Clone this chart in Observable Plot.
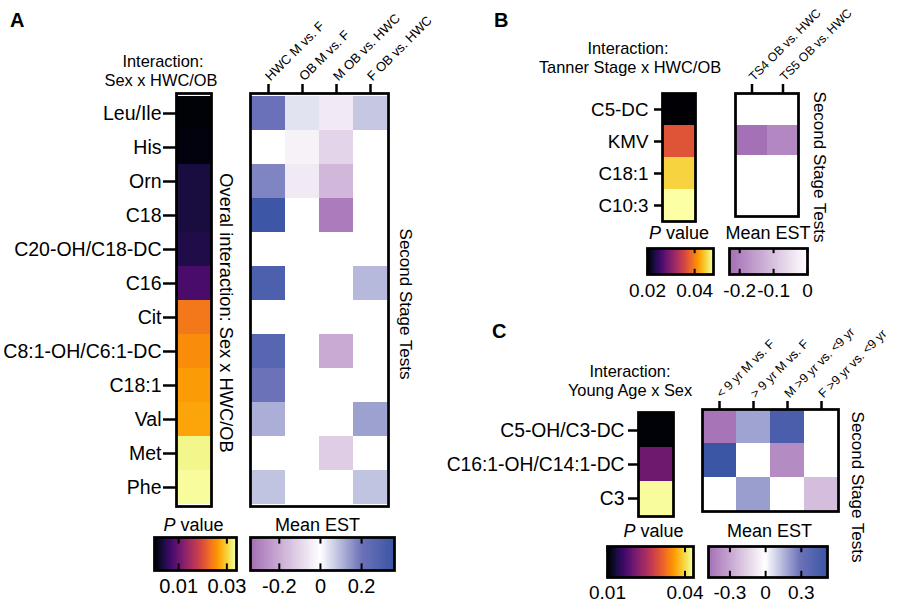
<!DOCTYPE html>
<html>
<head>
<meta charset="utf-8">
<script src="https://cdn.jsdelivr.net/npm/d3@7"></script>
<script src="https://cdn.jsdelivr.net/npm/@observablehq/plot@0.6"></script>
<style>
  html, body { margin: 0; padding: 0; background: white; }
  #root { position: relative; width: 900px; height: 612px; background: white; overflow: hidden; }
  #root svg { position: absolute; left: 0; top: 0; pointer-events: none; }
</style>
</head>
<body>
<div id="root"></div>
<script>
// ---------- DATA ----------
// Panel A
const rowsA = ["Leu/Ile","His","Orn","C18","C20-OH/C18-DC","C16","Cit","C8:1-OH/C6:1-DC","C18:1","Val","Met","Phe"];
const pValuesA = [0.0005, 0.0008, 0.0036, 0.0037, 0.0042, 0.0075, 0.0238, 0.0255, 0.0265, 0.0272, 0.0330, 0.0337];
const testsA = ["HWC M vs. F","OB M vs. F","M OB vs. HWC","F OB vs. HWC"];
const estA = [
  [0.21, 0.04, -0.05, 0.08],
  [null, -0.03, -0.10, null],
  [0.175, -0.05, -0.17, null],
  [0.35, null, -0.31, null],
  [null, null, null, null],
  [0.30, null, null, 0.10],
  [null, null, null, null],
  [0.27, null, -0.20, null],
  [0.205, null, null, null],
  [0.115, null, null, 0.135],
  [null, null, -0.12, null],
  [0.085, null, null, 0.085]
];
const pTicksA = [0.01, 0.03];
const estTicksA = [-0.2, 0, 0.2];

// Panel B
const rowsB = ["C5-DC","KMV","C18:1","C10:3"];
const pValuesB = [0.0202, 0.037, 0.045, 0.0479];
const testsB = ["TS4 OB vs. HWC","TS5 OB vs. HWC"];
const estB = [
  [null, null],
  [-0.225, -0.19],
  [null, null],
  [null, null]
];
const pTicksB = [0.02, 0.04];
const estTicksB = [-0.2, -0.1, 0];

// Panel C
const rowsC = ["C5-OH/C3-DC","C16:1-OH/C14:1-DC","C3"];
const pValuesC = [0.0105, 0.0203, 0.043];
const testsC = ["< 9 yr M vs. F","> 9 yr M vs. F","M >9 yr vs. <9 yr","F >9 yr vs. <9 yr"];
const estC = [
  [-0.46, 0.19, 0.45, null],
  [0.51, null, -0.385, null],
  [null, 0.20, null, -0.22]
];
const pTicksC = [0.01, 0.04];
const estTicksC = [-0.3, 0, 0.3];

// ---------- SCALES ----------
const purple = "#a36eb4", blueMid = "#6d73b9", blue = "#3a55a5";
const pColorA = {type: "linear", domain: [0, 0.034], scheme: "inferno"};
const pColorB = {type: "linear", domain: [0.02, 0.048], scheme: "inferno"};
const pColorC = {type: "linear", domain: [0.01, 0.0433], scheme: "inferno"};
const estColorA = {type: "linear", domain: [-0.34, 0, 0.2, 0.36], range: [purple, "#ffffff", blueMid, blue], interpolate: "rgb"};
const estColorB = {type: "linear", domain: [-0.23, 0], range: [purple, "#ffffff"], interpolate: "rgb"};
const estColorC = {type: "linear", domain: [-0.48, 0, 0.29, 0.52], range: [purple, "#ffffff", blueMid, blue], interpolate: "rgb"};

// ---------- HELPERS ----------
const W = 900, H = 612;
const FONT = "'Liberation Sans', Arial, Helvetica, sans-serif";
const style = {fontFamily: FONT, background: "transparent", color: "black", overflow: "visible"};
function area(x0, y0, x1, y1) {
  return {width: W, height: H, marginLeft: x0, marginTop: y0, marginRight: W - x1, marginBottom: H - y1};
}
const root = document.getElementById("root");
function add(el) { root.appendChild(el); }

function pColumn({rows, values, color, box, fontSize, tickSize, tickPadding}) {
  const data = rows.map((r, i) => ({row: r, value: values[i]}));
  return Plot.plot({
    ...area(...box), style,
    y: {domain: rows, padding: 0, axis: null},
    color,
    marks: [
      Plot.cell(data, {y: "row", fill: "value", shapeRendering: "crispEdges"}),
      Plot.axisY({tickSize, tickPadding, fontSize, strokeWidth: 2.5, label: null}),
      Plot.frame({stroke: "black", strokeWidth: 2.75})
    ]
  });
}

function heatmap({rows, cols, matrix, color, box, colFont, tickSize}) {
  const data = [];
  rows.forEach((r, i) => cols.forEach((c, j) => {
    if (matrix[i][j] != null) data.push({row: r, col: c, value: matrix[i][j]});
  }));
  return Plot.plot({
    ...area(...box), style,
    x: {domain: cols, padding: 0, axis: null},
    y: {domain: rows, padding: 0, axis: null},
    color,
    marks: [
      Plot.cell(data, {x: "col", y: "row", fill: "value", shapeRendering: "crispEdges"}),
      Plot.axisX({anchor: "top", tickSize, strokeWidth: 2.5, tickFormat: () => "", label: null}),
      Plot.text(cols, {x: d => d, text: d => d, frameAnchor: "top", rotate: -45, textAnchor: "start",
        lineAnchor: "bottom", dx: 2, dy: -(tickSize + 2), fontSize: colFont}),
      Plot.frame({stroke: "black", strokeWidth: 2.75})
    ]
  });
}

function colorbar({color, domain, ticks, box, fontSize, tickPadding}) {
  const N = 160, step = (domain[1] - domain[0]) / N;
  const steps = d3.range(N).map(i => domain[0] + step * i);
  return Plot.plot({
    ...area(...box), style,
    x: {domain, axis: null},
    y: {domain: [0, 1], axis: null},
    color,
    marks: [
      Plot.rect(steps, {x1: d => d, x2: d => Math.min(domain[1], d + step * 1.5), y1: 0, y2: 1,
        fill: d => d + step / 2, shapeRendering: "crispEdges"}),
      Plot.ruleX(ticks, {y1: 1, y2: 0.8, strokeWidth: 2}),
      Plot.ruleX(ticks, {y1: 0, y2: 0.2, strokeWidth: 2}),
      Plot.axisX({ticks, tickSize: 0, tickPadding, fontSize, tickFormat: d => String(d), label: null}),
      Plot.frame({stroke: "black", strokeWidth: 2.75})
    ]
  });
}

// ---------- PANEL A ----------
add(pColumn({rows: rowsA, values: pValuesA, color: pColorA, box: [176, 93, 211, 506], fontSize: 19.5, tickSize: 13, tickPadding: 2}));
add(heatmap({rows: rowsA, cols: testsA, matrix: estA, color: estColorA, box: [250, 93, 388, 506], colFont: 13, tickSize: 10}));
add(colorbar({color: pColorA, domain: [0, 0.034], ticks: pTicksA, box: [154, 537, 236, 570], fontSize: 20, tickPadding: 8}));
add(colorbar({color: estColorA, domain: [-0.34, 0.36], ticks: estTicksA, box: [250, 537, 394, 570], fontSize: 20, tickPadding: 8}));

// ---------- PANEL B ----------
add(pColumn({rows: rowsB, values: pValuesB, color: pColorB, box: [662, 93, 695, 221], fontSize: 18.8, tickSize: 8, tickPadding: 6}));
add(heatmap({rows: rowsB, cols: testsB, matrix: estB, color: estColorB, box: [735, 93, 798, 216], colFont: 12.3, tickSize: 10}));
add(colorbar({color: pColorB, domain: [0.02, 0.048], ticks: pTicksB, box: [647, 248, 713, 274], fontSize: 19, tickPadding: 9}));
add(colorbar({color: estColorB, domain: [-0.23, 0], ticks: estTicksB, box: [729, 248, 807, 274], fontSize: 19, tickPadding: 9}));

// ---------- PANEL C ----------
add(pColumn({rows: rowsC, values: pValuesC, color: pColorC, box: [638, 412, 673, 516], fontSize: 19.3, tickSize: 10, tickPadding: 4}));
add(heatmap({rows: rowsC, cols: testsC, matrix: estC, color: estColorC, box: [702, 409, 838, 511], colFont: 12.5, tickSize: 9}));
add(colorbar({color: pColorC, domain: [0.01, 0.0433], ticks: pTicksC, box: [607, 546, 693, 577], fontSize: 19, tickPadding: 8}));
add(colorbar({color: estColorC, domain: [-0.48, 0.52], ticks: estTicksC, box: [708, 546, 827, 577], fontSize: 19, tickPadding: 8}));

// ---------- TEXT ANNOTATIONS ----------
const svg = d3.select("#root").append("svg").attr("width", W).attr("height", H)
  .style("font-family", FONT);
function txt(x, y, s, size, opts = {}) {
  const t = svg.append("text").attr("x", x).attr("y", y).attr("font-size", size)
    .attr("text-anchor", opts.anchor || "middle").attr("fill", "black");
  if (opts.weight) t.attr("font-weight", opts.weight);
  if (opts.rotate) t.attr("transform", `rotate(${opts.rotate},${x},${y})`).attr("dominant-baseline", "central");
  t.text(s);
  return t;
}
function pLabel(x, y) {
  const t = svg.append("text").attr("x", x).attr("y", y).attr("font-size", 18).attr("text-anchor", "middle");
  t.append("tspan").attr("font-style", "italic").text("P");
  t.append("tspan").text(" value");
}
// panel letters
txt(10, 27, "A", 20, {anchor: "start", weight: "bold"});
txt(494, 27, "B", 20, {anchor: "start", weight: "bold"});
txt(492, 338, "C", 20, {anchor: "start", weight: "bold"});
// headings
txt(163, 67, "Interaction:", 16.4); txt(161, 86, "Sex x HWC/OB", 16.4);
txt(628, 54, "Interaction:", 16.4); txt(630, 73, "Tanner Stage x HWC/OB", 16.4);
txt(630, 377, "Interaction:", 16.4); txt(630, 396, "Young Age x Sex", 16.4);
// legend titles
pLabel(193.5, 531); txt(317.5, 531, "Mean EST", 18);
pLabel(679, 239); txt(768, 239, "Mean EST", 18);
pLabel(653.5, 537); txt(769.5, 537, "Mean EST", 18);
// rotated
txt(226, 313, "Overal interaction: Sex x HWC/OB", 18.3, {rotate: 90});
txt(405, 304, "Second Stage Tests", 17, {rotate: 90});
txt(819, 167, "Second Stage Tests", 17, {rotate: 90});
txt(857, 487, "Second Stage Tests", 17, {rotate: 90});
</script>
</body>
</html>
